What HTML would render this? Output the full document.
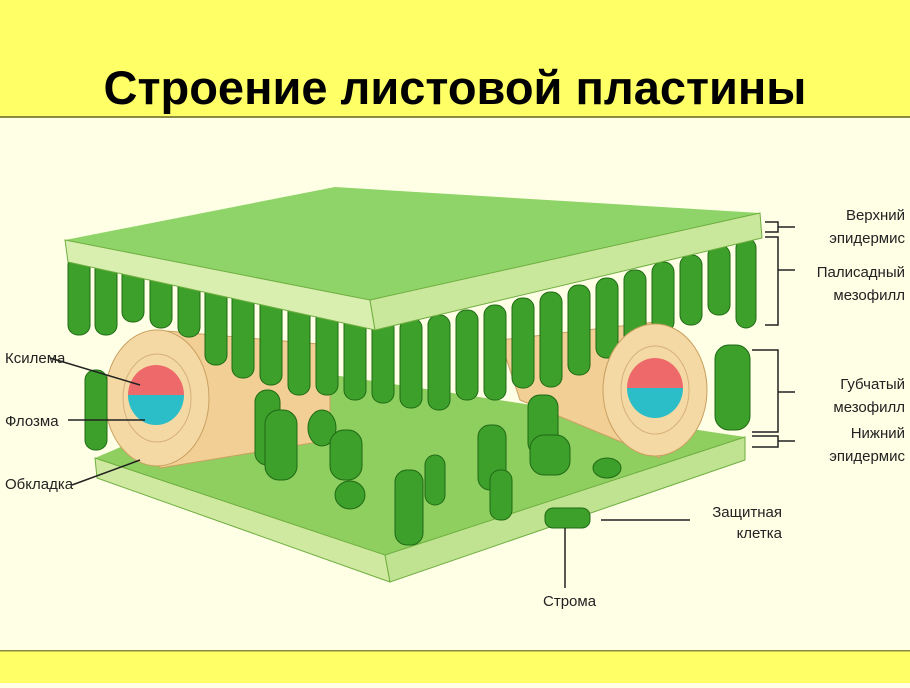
<!DOCTYPE html>
<html><head><meta charset="utf-8"><style>
html,body{margin:0;padding:0;}
body{width:910px;height:683px;overflow:hidden;background:#ffffe6;font-family:"Liberation Sans",sans-serif;}
</style></head><body>
<svg width="910" height="683" viewBox="0 0 910 683" xmlns="http://www.w3.org/2000/svg">
<rect x="0" y="0" width="910" height="117" fill="#ffff66"/>
<rect x="0" y="116" width="910" height="2" fill="#8a8a40"/>
<rect x="0" y="651" width="910" height="32" fill="#ffff66"/>
<rect x="0" y="650" width="910" height="1.5" fill="#8a8a40"/>
<text x="455" y="104" text-anchor="middle" font-family="'Liberation Sans',sans-serif" font-weight="bold" font-size="47" fill="#000">Строение листовой пластины</text>

<!-- bottom slab -->
<polygon points="95,458 300,370 745,437 385,555" fill="#8fcf60"/>
<polygon points="95,458 385,555 390,582 97,478" fill="#cfeaa0" stroke="#6fae40"/>
<polygon points="385,555 745,437 745,460 390,582" fill="#bfe390" stroke="#6fae40"/>

<!-- left bundle body -->
<polygon points="155,330 330,345 330,440 160,468" fill="#f2cf95" stroke="#c9a060"/>
<!-- right bundle body -->
<polygon points="500,340 655,322 660,458 520,400" fill="#f2cf95" stroke="#c9a060"/>

<!-- palisade -->
<g fill="#3da02a" stroke="#1f6a15" stroke-width="1">
<rect x="68" y="255" width="22" height="80" rx="10"/><rect x="95" y="260" width="22" height="75" rx="10"/>
<rect x="122" y="262" width="22" height="60" rx="10"/><rect x="150" y="268" width="22" height="60" rx="10"/>
<rect x="178" y="272" width="22" height="65" rx="10"/><rect x="205" y="280" width="22" height="85" rx="10"/>
<rect x="232" y="288" width="22" height="90" rx="10"/><rect x="260" y="295" width="22" height="90" rx="10"/>
<rect x="288" y="300" width="22" height="95" rx="10"/><rect x="316" y="305" width="22" height="90" rx="10"/>
<rect x="344" y="310" width="22" height="90" rx="10"/><rect x="372" y="318" width="22" height="85" rx="10"/>
<rect x="400" y="318" width="22" height="90" rx="10"/><rect x="428" y="315" width="22" height="95" rx="10"/>
<rect x="456" y="310" width="22" height="90" rx="10"/><rect x="484" y="305" width="22" height="95" rx="10"/>
<rect x="512" y="298" width="22" height="90" rx="10"/><rect x="540" y="292" width="22" height="95" rx="10"/>
<rect x="568" y="285" width="22" height="90" rx="10"/><rect x="596" y="278" width="22" height="80" rx="10"/>
<rect x="624" y="270" width="22" height="75" rx="10"/><rect x="652" y="262" width="22" height="70" rx="10"/>
<rect x="680" y="255" width="22" height="70" rx="10"/><rect x="708" y="245" width="22" height="70" rx="10"/>
<rect x="736" y="238" width="20" height="90" rx="10"/>
</g>

<!-- bundle end faces -->
<ellipse cx="157" cy="398" rx="52" ry="68" fill="#f5d9a5" stroke="#c9a060"/>
<ellipse cx="157" cy="398" rx="34" ry="44" fill="none" stroke="#d6b078"/>
<path d="M128,395 A28,30 0 0 1 184,395 Z" fill="#ee6a6a"/>
<path d="M128,395 A28,30 0 0 0 184,395 Z" fill="#2bbdc8"/>
<ellipse cx="655" cy="390" rx="52" ry="66" fill="#f5d9a5" stroke="#c9a060"/>
<ellipse cx="655" cy="390" rx="34" ry="44" fill="none" stroke="#d6b078"/>
<path d="M627,388 A28,30 0 0 1 683,388 Z" fill="#ee6a6a"/>
<path d="M627,388 A28,30 0 0 0 683,388 Z" fill="#2bbdc8"/>

<!-- spongy cells -->
<g fill="#3da02a" stroke="#1f6a15">
<rect x="85" y="370" width="22" height="80" rx="10"/>
<rect x="255" y="390" width="25" height="75" rx="12"/>
<rect x="265" y="410" width="32" height="70" rx="14"/>
<ellipse cx="322" cy="428" rx="14" ry="18"/>
<rect x="330" y="430" width="32" height="50" rx="14"/>
<ellipse cx="350" cy="495" rx="15" ry="14"/>
<rect x="395" y="470" width="28" height="75" rx="12"/>
<rect x="425" y="455" width="20" height="50" rx="10"/>
<rect x="478" y="425" width="28" height="65" rx="12"/>
<rect x="490" y="470" width="22" height="50" rx="10"/>
<rect x="528" y="395" width="30" height="60" rx="12"/>
<rect x="530" y="435" width="40" height="40" rx="14"/>
<ellipse cx="607" cy="468" rx="14" ry="10"/>
<rect x="715" y="345" width="35" height="85" rx="14"/>
<rect x="545" y="508" width="45" height="20" rx="8"/>
</g>

<!-- top slab -->
<polygon points="65,240 335,187 760,213 370,300" fill="#8fd468"/>
<polygon points="65,240 370,300 375,330 68,262" fill="#d8efb0" stroke="#6fae40"/>
<polygon points="370,300 760,213 762,238 375,330" fill="#c9e89c" stroke="#6fae40"/>

<!-- right brackets -->
<g stroke="#222" stroke-width="1.5" fill="none">
<path d="M765,222 H778 V232 H765 M778,227 H795"/>
<path d="M765,237 H778 V325 H765 M778,270 H795"/>
<path d="M752,350 H778 V432 H752 M778,392 H795"/>
<path d="M752,436 H778 V447 H752 M778,441 H795"/>
<path d="M50,358 L140,385 M68,420 L145,420 M72,485 L140,460 M601,520 H690 M565,528 V588"/>
</g>
<g font-family="'Liberation Sans',sans-serif" font-size="15" fill="#222" text-anchor="end">
<text x="905" y="220">Верхний</text><text x="905" y="243">эпидермис</text>
<text x="905" y="277">Палисадный</text><text x="905" y="300">мезофилл</text>
<text x="905" y="389">Губчатый</text><text x="905" y="412">мезофилл</text>
<text x="905" y="438">Нижний</text><text x="905" y="461">эпидермис</text>
<text x="782" y="517">Защитная</text><text x="782" y="538">клетка</text>
</g>
<g font-family="'Liberation Sans',sans-serif" font-size="15" fill="#222">
<text x="5" y="363">Ксилема</text><text x="5" y="426">Флозма</text><text x="5" y="489">Обкладка</text>
<text x="543" y="606">Строма</text>
</g>
</svg>
</body></html>
